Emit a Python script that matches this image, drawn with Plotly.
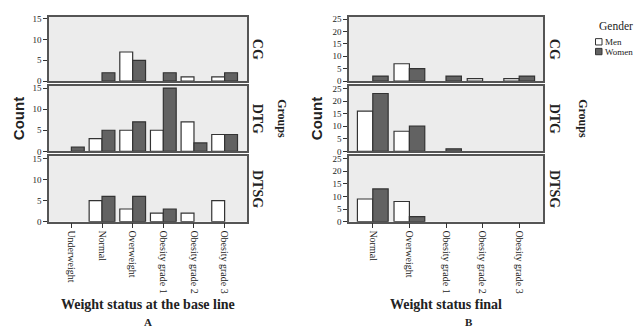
import plotly.graph_objects as go
from plotly.subplots import make_subplots

# ---- data ----
groups = ["CG", "DTG", "DTSG"]
cats_a = ["Underweight", "Normal", "Overweight", "Obesity grade 1", "Obesity grade 2", "Obesity grade 3"]
cats_b = ["Normal", "Overweight", "Obesity grade 1", "Obesity grade 2", "Obesity grade 3"]

a_men_cg = [0, 0, 7, 0, 1, 1]
a_women_cg = [0, 2, 5, 2, 0, 2]
a_men_dtg = [0, 3, 5, 5, 7, 4]
a_women_dtg = [1, 5, 7, 15, 2, 4]
a_men_dtsg = [0, 5, 3, 2, 2, 5]
a_women_dtsg = [0, 6, 6, 3, 0, 0]

b_men_cg = [0, 7, 0, 1, 1]
b_women_cg = [2, 5, 2, 0, 2]
b_men_dtg = [16, 8, 0, 0, 0]
b_women_dtg = [23, 10, 1, 0, 0]
b_men_dtsg = [9, 8, 0, 0, 0]
b_women_dtsg = [13, 2, 0, 0, 0]

a_ticks = [0, 5, 10, 15]
b_ticks = [0, 5, 10, 15, 20, 25]

men_a = [a_men_cg, a_men_dtg, a_men_dtsg]
women_a = [a_women_cg, a_women_dtg, a_women_dtsg]
men_b = [b_men_cg, b_men_dtg, b_men_dtsg]
women_b = [b_women_cg, b_women_dtg, b_women_dtsg]

# ---- styles ----
W, H = 638, 334
MEN_COLOR = "#ffffff"
WOMEN_COLOR = "#626262"
EDGE = "#333333"
BG = "#ececec"
SERIF = "Liberation Serif, Times New Roman, serif"
SANS = "Liberation Sans, Arial, sans-serif"
TXT = "#222222"


def nz(vals):
    # empty cells are not drawn (no outline for a zero count)
    return [v if v else None for v in vals]


fig = make_subplots(rows=3, cols=2, horizontal_spacing=0.05, vertical_spacing=0.02)

for r in range(3):
    for c, (cats, men, women) in enumerate([(cats_a, men_a, women_a), (cats_b, men_b, women_b)]):
        fig.add_trace(go.Bar(x=cats, y=nz(men[r]), name="Men",
                             marker=dict(color=MEN_COLOR, line=dict(color=EDGE, width=1.2)),
                             showlegend=False), row=r + 1, col=c + 1)
        fig.add_trace(go.Bar(x=cats, y=nz(women[r]), name="Women",
                             marker=dict(color=WOMEN_COLOR, line=dict(color=EDGE, width=1.2)),
                             showlegend=False), row=r + 1, col=c + 1)


def px_x(v):
    return v / W


def px_y(v):
    return 1 - v / H


xdom = [[px_x(49), px_x(247)], [px_x(349), px_x(543)]]
ydom = [[px_y(80), px_y(14)], [px_y(152), px_y(85)], [px_y(224), px_y(157)]]

for r in range(3):
    for c in range(2):
        bottom = (r == 2)
        cats = cats_a if c == 0 else cats_b
        fig.update_xaxes(row=r + 1, col=c + 1, domain=xdom[c], type="category",
                         categoryorder="array", categoryarray=cats,
                         range=[-0.73, len(cats) - 0.27] if c == 0 else [-0.65, len(cats) - 0.35],
                         showline=True, mirror=True, linecolor="#555555", linewidth=1.5,
                         showgrid=False, zeroline=False,
                         ticks="outside" if bottom else "", ticklen=5, tickcolor="#333333",
                         showticklabels=bottom, tickangle=90,
                         tickfont=dict(family=SERIF, size=10, color=TXT))
        fig.update_yaxes(row=r + 1, col=c + 1, domain=ydom[r],
                         range=[0, 15.5] if c == 0 else [0, 26],
                         tickvals=a_ticks if c == 0 else b_ticks,
                         showline=True, mirror=True, linecolor="#555555", linewidth=1.5,
                         showgrid=False, zeroline=False,
                         ticks="outside", ticklen=4, tickcolor="#333333",
                         tickfont=dict(family=SERIF, size=9, color=TXT))

fig.update_layout(
    width=W, height=H, margin=dict(l=0, r=0, t=0, b=0),
    paper_bgcolor="white", plot_bgcolor=BG,
    barmode="group", bargap=0.16, bargroupgap=0,
    showlegend=False,
)


def label(x, y, text, size, family=SERIF, angle=0, xanchor="center"):
    return dict(x=px_x(x), y=px_y(y), xref="paper", yref="paper", text=text, textangle=angle,
                xanchor=xanchor, yanchor="middle", showarrow=False,
                font=dict(family=family, size=size, color=TXT))


ann = []
for x in [18, 316]:
    ann.append(label(x, 119, "<b>Count</b>", 15, family=SANS, angle=-90))
panel_centers = [47, 118.5, 190.5]
for xc in [257, 554]:
    for g, yc in zip(groups, panel_centers):
        ann.append(label(xc, yc, "<b>%s</b>" % g, 14, angle=90))
for xc in [282, 583]:
    ann.append(label(xc, 118, "<b>Groups</b>", 12, angle=90))
ann.append(label(148, 309, "<b>Weight status at the base line</b>", 14))
ann.append(label(446, 309, "<b>Weight status final</b>", 14))
ann.append(label(148, 327, "<b>A</b>", 11))
ann.append(label(469, 327, "<b>B</b>", 11))
ann.append(label(616, 24, "Gender", 11.5))
ann.append(label(603, 39.5, "Men", 9, xanchor="left"))
ann.append(label(603, 50, "Women", 9, xanchor="left"))
fig.update_layout(annotations=ann)

shapes = []
for y0, col in [(36.5, MEN_COLOR), (46.5, WOMEN_COLOR)]:
    shapes.append(dict(type="rect", xref="paper", yref="paper", x0=px_x(595.5), x1=px_x(602),
                       y0=px_y(y0 + 6.5), y1=px_y(y0), fillcolor=col, line=dict(color=EDGE, width=1)))
fig.update_layout(shapes=shapes)

fig.write_html("out.html")
